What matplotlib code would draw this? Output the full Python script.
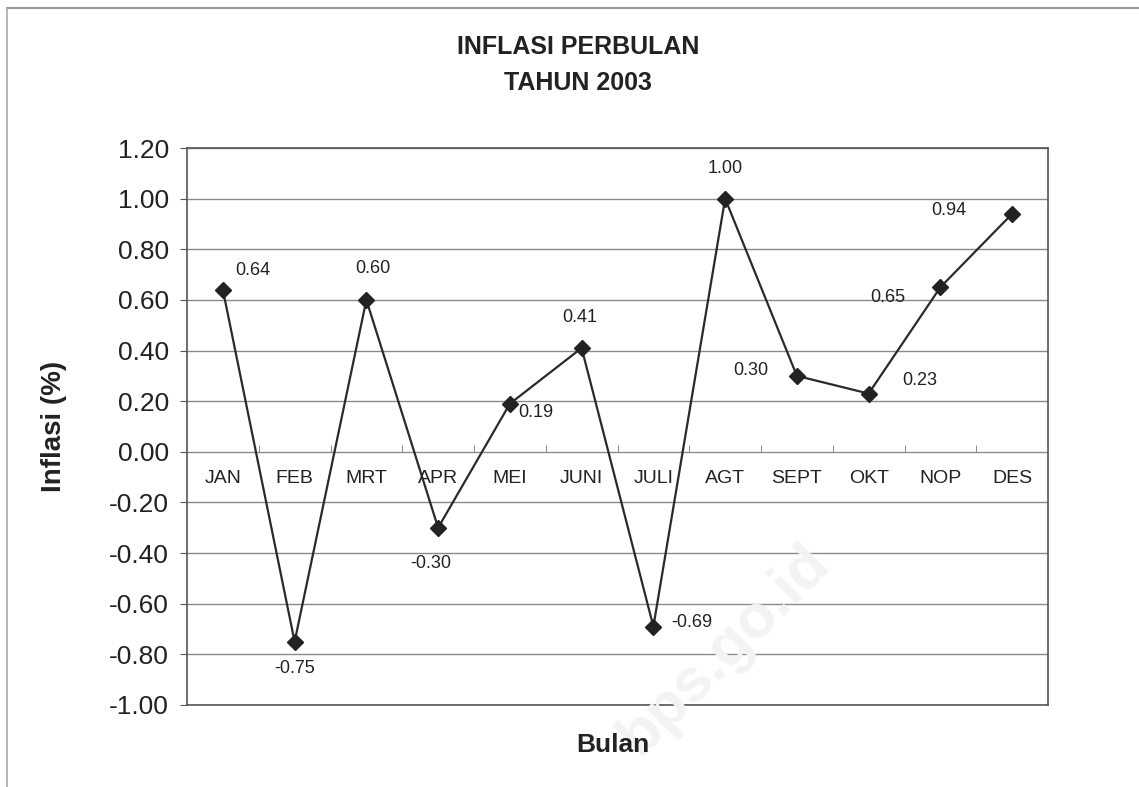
import matplotlib.pyplot as plt
from matplotlib.lines import Line2D

plt.rcParams['font.family'] = ['Liberation Sans', 'DejaVu Sans']

months = ["JAN", "FEB", "MRT", "APR", "MEI", "JUNI", "JULI", "AGT", "SEPT", "OKT", "NOP", "DES"]
inflasi = [0.64, -0.75, 0.60, -0.30, 0.19, 0.41, -0.69, 1.00, 0.30, 0.23, 0.65, 0.94]
yticks = [-1.0, -0.8, -0.6, -0.4, -0.2, 0.0, 0.2, 0.4, 0.6, 0.8, 1.0, 1.2]

# label offsets in pixels (style only)
offsets = [(30, 19), (0, -27), (6, 31), (-7, -36), (26, -9), (-2, 31),
           (38, 4), (0, 30), (-46, 5), (51, 13), (-53, -10), (-63, 3)]

fig = plt.figure(figsize=(11.39, 7.87), dpi=100)
ax = fig.add_axes([187/1139, 1-705/787, (1048-187)/1139, (705-148)/787])

x = list(range(len(months)))
ax.plot(x, inflasi, color="#2a2a2a", lw=1.6, marker="D", ms=8, mfc="#222222", mec="#222222", zorder=3)

for xi, v, off in zip(x, inflasi, offsets):
    ax.annotate(f"{v:.2f}", (xi, v), xytext=off, textcoords="offset pixels",
                ha="center", va="center", fontsize=13, color="#222222")

ax.set_xlim(-0.5, 11.5)
ax.set_ylim(-1.0, 1.2)
ax.set_yticks(yticks)
ax.set_yticklabels([f"{t:.2f}" for t in yticks], fontsize=19, color="#222222")
ax.tick_params(axis="y", direction="out", length=5, color="#555555", pad=8)
ax.set_xticks([])
ax.grid(axis="y", color="#8a8a8a", lw=1)
ax.set_axisbelow(True)
for s in ax.spines.values():
    s.set_color("#555555")
    s.set_linewidth(1.2)

# category axis crossing at zero
sec = ax.secondary_xaxis(1.0/2.2)
sec.spines["bottom"].set_visible(False)
sec.set_xticks(x)
sec.set_xticklabels(months, fontsize=14, color="#222222")
sec.set_xticks([i - 0.5 for i in range(1, len(months))], minor=True)
sec.tick_params(axis="x", which="major", length=0, pad=13)
sec.tick_params(axis="x", which="minor", direction="in", length=5, color="#777777")

ax.set_ylabel("Inflasi (%)", fontsize=20, fontweight="bold", color="#222222", labelpad=30)
fig.text(613/1139, 1-745/787, "Bulan", ha="center", va="center", fontsize=19, fontweight="bold", color="#222222")
fig.text(578/1139, 1-47/787, "INFLASI PERBULAN", ha="center", va="center", fontsize=18, fontweight="bold", color="#222222")
fig.text(578/1139, 1-83/787, "TAHUN 2003", ha="center", va="center", fontsize=18, fontweight="bold", color="#222222")

# faint watermark
fig.text(725/1139, 1-650/787, "bps.go.id", ha="center", va="center", fontsize=44, fontweight="bold",
         rotation=45, color="#f3f3f3", zorder=0)

# scanned page border
fig.add_artist(Line2D([7/1139, 1], [1-8/787, 1-8/787], transform=fig.transFigure, color="#999999", lw=1.5))
fig.add_artist(Line2D([7/1139, 7/1139], [0, 1-8/787], transform=fig.transFigure, color="#aaaaaa", lw=1.2))

fig.savefig("out.png", dpi=100)
